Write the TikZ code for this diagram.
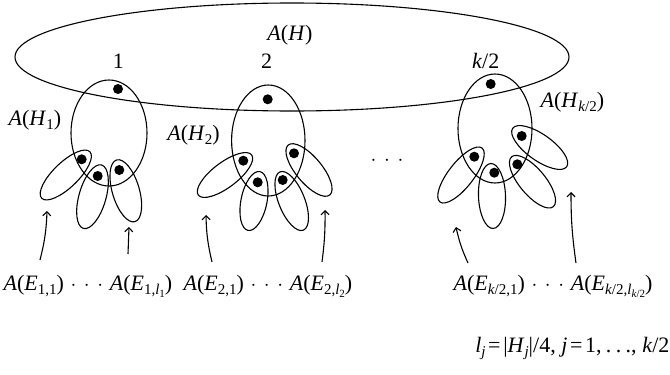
\documentclass[tikz,border=0pt]{standalone}
\usepackage{fontspec}
\setmainfont{Liberation Serif}
\usetikzlibrary{arrows.meta,shapes.geometric}
\newcommand\mi[1]{\textit{#1}}
\newcommand\sbs[1]{\raisebox{-0.22em}{\fontsize{15}{15}\selectfont #1}}
\newcommand\ssbs[1]{\raisebox{-0.2em}{\fontsize{11}{11}\selectfont #1}}
\newcommand\mydots{\hspace{0.3em}$\cdot$\hspace{0.35em}$\cdot$\hspace{0.35em}$\cdot$\hspace{0.3em}}
\begin{document}
\begin{tikzpicture}[x=1pt,y=-1pt,line width=1.1pt,
  ov/.style={draw,ellipse,inner sep=0pt},
  dotc/.style={fill,circle,inner sep=0pt,minimum size=10pt},
  lbl/.style={font=\fontsize{22}{26}\selectfont,inner sep=0pt},
  arr/.style={-{Straight Barb[length=4pt,width=8pt]}}]
\useasboundingbox (0,0) rectangle (670,375);
% big ellipse
\node[ov,minimum width=554pt,minimum height=108pt] (AH) at (292,57) {};
\node[lbl,anchor=base] (lAH) at (290,40) {\mi{A}(\mi{H})};
\node[lbl,anchor=base] (n1) at (118.3,68) {1};
\node[lbl,anchor=base] (n2) at (266.7,68) {2};
\node[lbl,anchor=base] (n3) at (485.7,68) {\mi{k}/2};
% cluster 1
\node[ov,minimum width=76pt,minimum height=106pt] (H1) at (109,133) {};
\node[lbl,anchor=base west] (lH1) at (8,125) {\mi{A}(\mi{H}\sbs{1})};
\node[dotc] (d1) at (118,89) {};
\node[ov,minimum width=67pt,minimum height=25pt,rotate=44] (p1a) at (65.8,175) {};
\node[ov,minimum width=66pt,minimum height=27pt,rotate=74] (p1b) at (92.5,196.7) {};
\node[ov,minimum width=64.4pt,minimum height=27pt,rotate=106.5] (p1c) at (125.8,190.8) {};
\node[dotc] (d1a) at (81.7,159.3) {};
\node[dotc] (d1b) at (97.7,176) {};
\node[dotc] (d1c) at (119.3,170) {};
% cluster 2
\node[ov,minimum width=73.4pt,minimum height=111pt] (H2) at (268.3,140.5) {};
\node[lbl,anchor=base west] (lH2) at (166.7,140) {\mi{A}(\mi{H}\sbs{2})};
\node[dotc] (d2) at (267.7,99.3) {};
\node[ov,minimum width=66.8pt,minimum height=25pt,rotate=37] (p2a) at (225,175) {};
\node[ov,minimum width=60pt,minimum height=26pt,rotate=78.6] (p2b) at (254,201) {};
\node[ov,minimum width=62.8pt,minimum height=26pt,rotate=111.8] (p2c) at (291.7,201) {};
\node[ov,minimum width=65pt,minimum height=26pt,rotate=129.8] (p2d) at (309,170) {};
\node[dotc] (d2a) at (243.3,160.7) {};
\node[dotc] (d2b) at (257.7,182.3) {};
\node[dotc] (d2c) at (282.7,180) {};
\node[dotc] (d2d) at (294,153.3) {};
% middle dots
\node[lbl] (mid) at (387,161) {$\cdot$\hspace{0.35em}$\cdot$\hspace{0.35em}$\cdot$};
% cluster 3
\node[ov,minimum width=74pt,minimum height=109pt] (H3) at (495,128.5) {};
\node[lbl,anchor=base west] (lH3) at (540,107) {\mi{A}(\mi{H}\sbs{\mi{k}/2})};
\node[dotc] (d3) at (490.7,84) {};
\node[ov,minimum width=68.4pt,minimum height=25pt,rotate=52] (p3a) at (461,175) {};
\node[ov,minimum width=65pt,minimum height=27pt,rotate=92] (p3b) at (492,196) {};
\node[ov,minimum width=65pt,minimum height=26pt,rotate=129.8] (p3c) at (532.5,181.7) {};
\node[ov,minimum width=66.3pt,minimum height=26pt,rotate=144.6] (p3d) at (539.7,147.5) {};
\node[dotc] (d3a) at (474.3,156.7) {};
\node[dotc] (d3b) at (494.3,172.7) {};
\node[dotc] (d3c) at (517.3,164.3) {};
\node[dotc] (d3d) at (521.7,136) {};
% bottom labels
\node[lbl,anchor=base west] (e1) at (3,290) {\mi{A}(\mi{E}\sbs{1,1})\mydots\mi{A}(\mi{E}\sbs{1,\mi{l}\ssbs{1}})};
\node[lbl,anchor=base west] (e2) at (183,290) {\mi{A}(\mi{E}\sbs{2,1})\mydots\mi{A}(\mi{E}\sbs{2,\mi{l}\ssbs{2}})};
\node[lbl,anchor=base west] (e3) at (453,290) {\mi{A}(\mi{E}\sbs{\mi{k}/2,1})\mydots\mi{A}(\mi{E}\sbs{\mi{k}/2,\mi{l}\ssbs{\mi{k}/2}})};
\node[lbl,anchor=base east] (fm) at (670,352) {\mi{l}\sbs{\mi{j}}\hspace{0.12em}=\hspace{0.12em}|\mi{H}\sbs{\mi{j}}|/4,\hspace{0.25em}\mi{j}\hspace{0.12em}=\hspace{0.12em}1,\hspace{0.2em}.\hspace{0.2em}.\hspace{0.2em}.,\hspace{0.25em}\mi{k}/2};
% arrows
\coordinate (t1a) at (40,260); \coordinate (h1a) at (47,211);
\coordinate (t1b) at (128,254); \coordinate (h1b) at (129,227);
\coordinate (t2a) at (212,262); \coordinate (h2a) at (206,215);
\coordinate (t2b) at (322,262); \coordinate (h2b) at (325,210);
\coordinate (t3a) at (468,263); \coordinate (h3a) at (456,227);
\coordinate (t3b) at (576,263); \coordinate (h3b) at (571,192);
\draw[arr] (t1a) to[bend right=6] (h1a);
\draw[arr] (t1b) -- (h1b);
\draw[arr] (t2a) to[bend left=6] (h2a);
\draw[arr] (t2b) to[bend right=4] (h2b);
\draw[arr] (t3a) to[bend left=6] (h3a);
\draw[arr] (t3b) to[bend left=4] (h3b);
\end{tikzpicture}
\end{document}
